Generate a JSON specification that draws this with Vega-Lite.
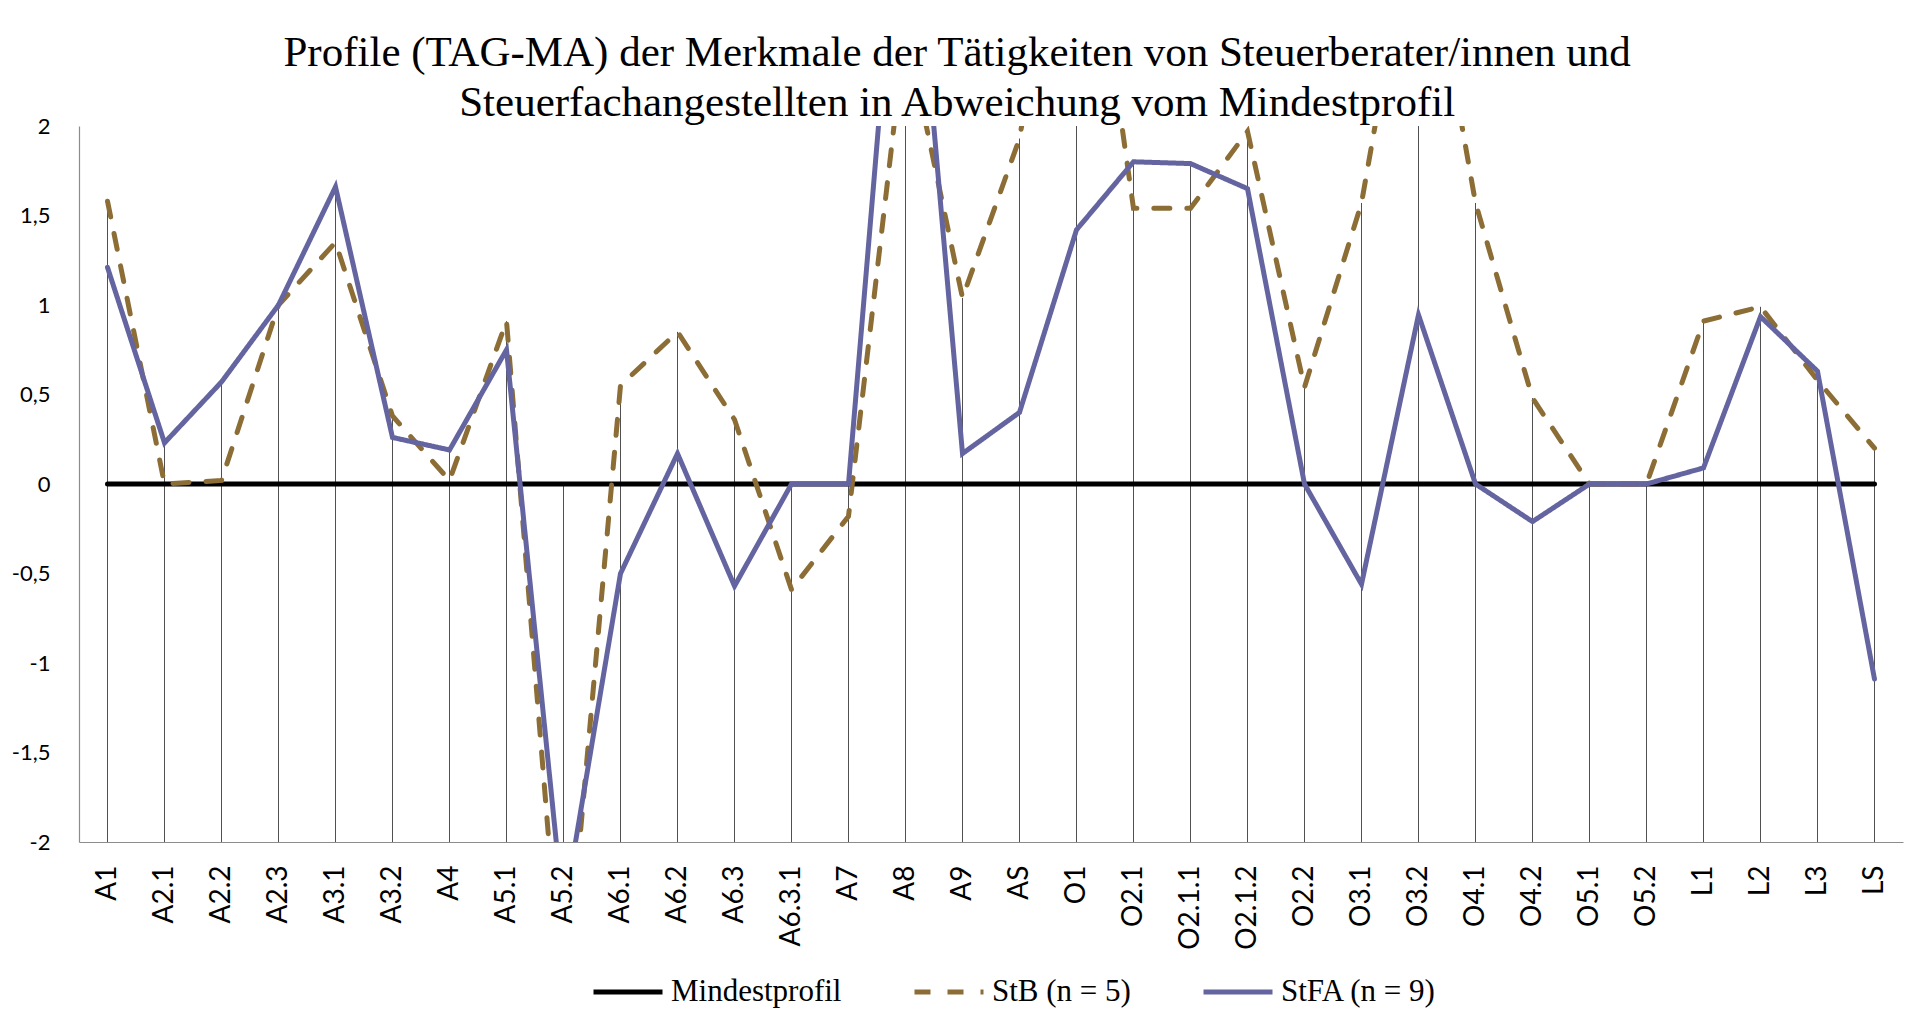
{
  "$schema": "https://vega.github.io/schema/vega-lite/v6.json",
  "autosize": {"type": "none"},
  "width": 1824,
  "height": 716,
  "padding": {"left": 79, "top": 126, "right": 9, "bottom": 179},
  "background": "white",
  "config": {"view": {"stroke": null}},
  "title": {
    "text": ["Profile (TAG-MA) der Merkmale der Tätigkeiten von Steuerberater/innen und", "Steuerfachangestellten in Abweichung vom Mindestprofil"],
    "font": "Liberation Serif",
    "fontSize": 43,
    "fontWeight": "normal",
    "color": "black",
    "lineHeight": 50,
    "anchor": "middle",
    "frame": "bounds",
    "baseline": "alphabetic",
    "offset": 0,
    "dy": 44
  },
  "data": {
    "values": [
      {"k": "A1", "Mindestprofil": 0, "StB": 1.58, "StFA": 1.21},
      {"k": "A2.1", "Mindestprofil": 0, "StB": 0.0, "StFA": 0.23},
      {"k": "A2.2", "Mindestprofil": 0, "StB": 0.02, "StFA": 0.57},
      {"k": "A2.3", "Mindestprofil": 0, "StB": 1.0, "StFA": 1.0},
      {"k": "A3.1", "Mindestprofil": 0, "StB": 1.35, "StFA": 1.66},
      {"k": "A3.2", "Mindestprofil": 0, "StB": 0.38, "StFA": 0.26},
      {"k": "A4", "Mindestprofil": 0, "StB": 0.02, "StFA": 0.19},
      {"k": "A5.1", "Mindestprofil": 0, "StB": 0.91, "StFA": 0.75},
      {"k": "A5.2", "Mindestprofil": 0, "StB": -3.0, "StFA": -2.4},
      {"k": "A6.1", "Mindestprofil": 0, "StB": 0.55, "StFA": -0.5},
      {"k": "A6.2", "Mindestprofil": 0, "StB": 0.85, "StFA": 0.17},
      {"k": "A6.3", "Mindestprofil": 0, "StB": 0.36, "StFA": -0.57},
      {"k": "A6.3.1", "Mindestprofil": 0, "StB": -0.59, "StFA": 0},
      {"k": "A7", "Mindestprofil": 0, "StB": -0.18, "StFA": 0},
      {"k": "A8", "Mindestprofil": 0, "StB": 2.55, "StFA": 3.8},
      {"k": "A9", "Mindestprofil": 0, "StB": 1.04, "StFA": 0.17},
      {"k": "AS", "Mindestprofil": 0, "StB": 1.93, "StFA": 0.4},
      {"k": "O1", "Mindestprofil": 0, "StB": 3.8, "StFA": 1.42},
      {"k": "O2.1", "Mindestprofil": 0, "StB": 1.54, "StFA": 1.8},
      {"k": "O2.1.1", "Mindestprofil": 0, "StB": 1.54, "StFA": 1.79},
      {"k": "O2.1.2", "Mindestprofil": 0, "StB": 1.97, "StFA": 1.65},
      {"k": "O2.2", "Mindestprofil": 0, "StB": 0.54, "StFA": 0},
      {"k": "O3.1", "Mindestprofil": 0, "StB": 1.57, "StFA": -0.56},
      {"k": "O3.2", "Mindestprofil": 0, "StB": 3.38, "StFA": 0.945},
      {"k": "O4.1", "Mindestprofil": 0, "StB": 1.57, "StFA": 0},
      {"k": "O4.2", "Mindestprofil": 0, "StB": 0.48, "StFA": -0.21},
      {"k": "O5.1", "Mindestprofil": 0, "StB": 0, "StFA": 0},
      {"k": "O5.2", "Mindestprofil": 0, "StB": 0, "StFA": 0},
      {"k": "L1", "Mindestprofil": 0, "StB": 0.91, "StFA": 0.09},
      {"k": "L2", "Mindestprofil": 0, "StB": 0.99, "StFA": 0.935},
      {"k": "L3", "Mindestprofil": 0, "StB": 0.58, "StFA": 0.63},
      {"k": "LS", "Mindestprofil": 0, "StB": 0.2, "StFA": -1.09}
    ]
  },
  "transform": [{"fold": ["Mindestprofil", "StB", "StFA"], "as": ["series", "value"]}],
  "encoding": {
    "x": {
      "field": "k",
      "type": "nominal",
      "sort": null,
      "scale": {"type": "point", "padding": 0.5},
      "axis": {
        "title": null,
        "labelAngle": -90,
        "labelFont": "Lato",
        "labelFontSize": 28,
        "labelColor": "black",
        "labelPadding": 23,
        "ticks": false,
        "grid": false,
        "domainColor": "#8c8c8c",
        "domainWidth": 1.2
      }
    },
    "y": {
      "field": "value",
      "type": "quantitative",
      "scale": {"domain": [-2, 2], "nice": false, "zero": false},
      "axis": {
        "title": null,
        "values": [-2, -1.5, -1, -0.5, 0, 0.5, 1, 1.5, 2],
        "labelExpr": "replace(toString(datum.value), '.', ',')",
        "labelFont": "Lato",
        "labelFontSize": 22,
        "labelColor": "black",
        "labelPadding": 29,
        "ticks": false,
        "grid": false,
        "domainColor": "#8c8c8c",
        "domainWidth": 1.2
      }
    }
  },
  "layer": [
    {
      "mark": {"type": "rule", "color": "#505050", "strokeWidth": 1, "clip": true},
      "encoding": {
        "y": {"aggregate": "max", "field": "value", "type": "quantitative"},
        "y2": {"datum": -2}
      }
    },
    {
      "mark": {"type": "line", "strokeWidth": 5, "clip": true, "strokeCap": "round", "strokeJoin": "miter"},
      "encoding": {
        "color": {
          "field": "series",
          "type": "nominal",
          "scale": {"domain": ["Mindestprofil", "StB", "StFA"], "range": ["#000000", "#8b6d35", "#6464a0"]},
          "legend": {
            "title": null,
            "orient": "none",
            "legendX": 512,
            "legendY": 829,
            "direction": "horizontal",
            "padding": 0,
            "symbolType": "stroke",
            "symbolSize": 4761,
            "symbolStrokeWidth": 5,
            "labelFont": "Liberation Serif",
            "labelFontSize": 31,
            "labelColor": "black",
            "labelOffset": 6,
            "columnPadding": 62,
            "labelLimit": 400,
            "labelExpr": "datum.label == 'StB' ? 'StB (n = 5)' : datum.label == 'StFA' ? 'StFA (n = 9)' : datum.label"
          }
        },
        "strokeDash": {
          "field": "series",
          "type": "nominal",
          "scale": {"domain": ["Mindestprofil", "StB", "StFA"], "range": [[1, 0], [16, 17], [1, 0]]},
          "legend": {
            "title": null,
            "orient": "none",
            "legendX": 512,
            "legendY": 829,
            "direction": "horizontal",
            "padding": 0,
            "symbolType": "stroke",
            "symbolSize": 4761,
            "symbolStrokeWidth": 5,
            "labelFont": "Liberation Serif",
            "labelFontSize": 31,
            "labelColor": "black",
            "labelOffset": 6,
            "columnPadding": 62,
            "labelLimit": 400,
            "labelExpr": "datum.label == 'StB' ? 'StB (n = 5)' : datum.label == 'StFA' ? 'StFA (n = 9)' : datum.label"
          }
        }
      }
    }
  ]
}
